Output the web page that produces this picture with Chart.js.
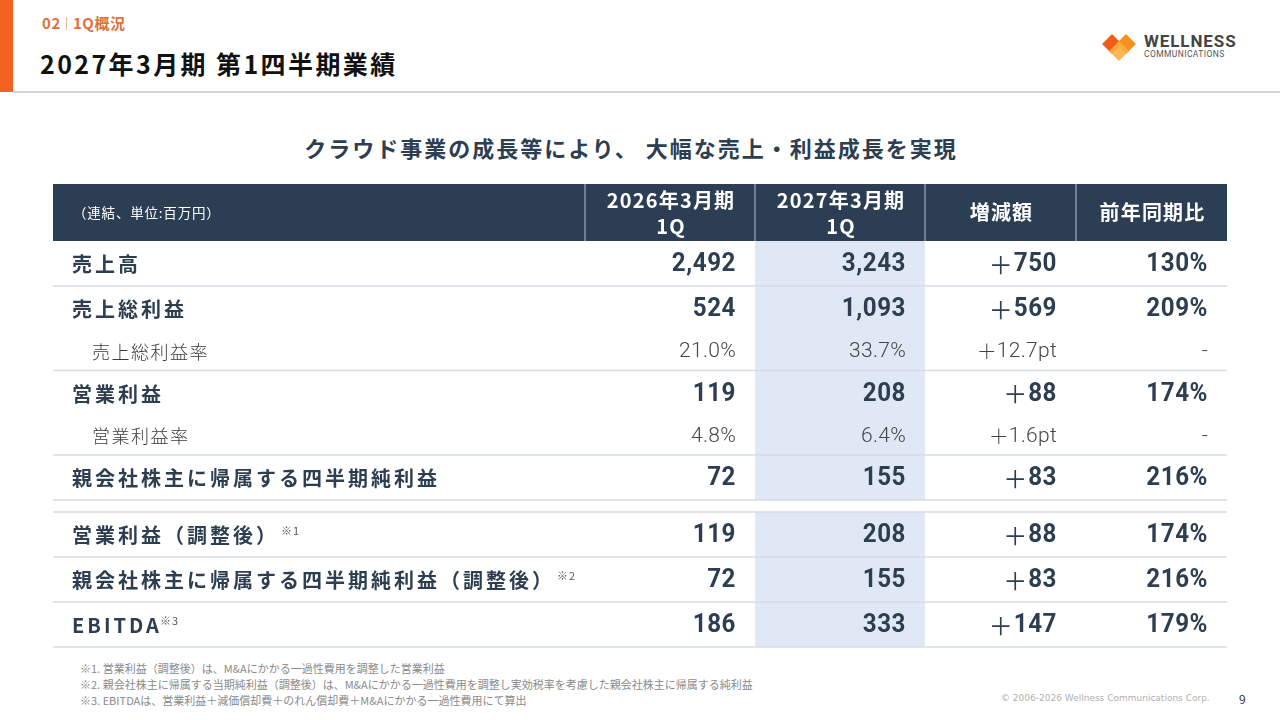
<!DOCTYPE html>
<html lang="ja">
<head>
<meta charset="utf-8">
<script src="https://cdn.jsdelivr.net/npm/chart.js@4.4.1/dist/chart.umd.min.js"></script>
<style>
  body { margin: 0; width: 1280px; height: 720px; background: #fff; position: relative; overflow: hidden;
         font-family: 'Noto Sans CJK JP', 'Noto Sans', sans-serif; }
  .bar { position: absolute; left: 0; top: 0; width: 13px; height: 92px; background: #f3601f; }
  .rule { position: absolute; left: 13px; right: 0; top: 91px; height: 2px; background: #d4d4d4; }
  .section { position: absolute; left: 42px; top: 12px; font-size: 15px; font-weight: 700; color: #e0703c; letter-spacing: 0.6px; }
  .section i { display: inline-block; width: 1px; height: 13px; background: #e8b8a0; margin: 0 6px 0 5px; vertical-align: -1px; }
  .title { position: absolute; left: 40px; top: 45px; font-size: 25px; font-weight: 700; color: #111; letter-spacing: 2.4px; }
  .logo { position: absolute; left: 1100px; top: 32px; }
  .lead { position: absolute; left: 0; width: 1262px; top: 131px; text-align: center; font-size: 22px; font-weight: 700;
          color: #2d3e50; letter-spacing: 2px; }
  #wrap { position: absolute; left: 53px; top: 184px; width: 1174px; height: 464px; }
  .notes { position: absolute; left: 80px; top: 660px; font-size: 11px; color: #8a8a8a; line-height: 16px; }
  .copy { position: absolute; left: 1001px; top: 693px; font-size: 9px; color: #b0b0b0; font-family: 'DejaVu Sans', sans-serif; }
  .page { position: absolute; left: 1239px; top: 690px; font-size: 12px; color: #333; }
</style>
</head>
<body>
<div class="bar"></div>
<div class="rule"></div>
<div class="section">02<i></i>1Q概況</div>
<div class="title">2027年3月期 第1四半期業績</div>
<svg class="logo" width="140" height="30" viewBox="0 0 140 30">
  <g transform="translate(0,2)">
    <rect x="5" y="3" width="14" height="14" fill="#f25c19" transform="rotate(45 12 10)"/>
    <rect x="19" y="3" width="14" height="14" fill="#f7901e" transform="rotate(45 26 10)"/>
    <rect x="12" y="10" width="14" height="14" fill="#fbb040" opacity="0.9" transform="rotate(45 19 17)"/>
  </g>
  <text x="44" y="15" font-family="Roboto, 'DejaVu Sans', sans-serif" font-weight="700" font-size="17" fill="#444" letter-spacing="0.9">WELLNESS</text>
  <text x="44" y="25" font-family="Roboto, 'DejaVu Sans', sans-serif" font-size="8.5" fill="#555" letter-spacing="0.4">COMMUNICATIONS</text>
</svg>
<div class="lead">クラウド事業の成長等により、 大幅な売上・利益成長を実現</div>
<div id="wrap"><canvas id="table" width="1174" height="464"></canvas></div>
<div class="notes">
  ※1. 営業利益（調整後）は、M&amp;Aにかかる一過性費用を調整した営業利益<br>
  ※2. 親会社株主に帰属する当期純利益（調整後）は、M&amp;Aにかかる一過性費用を調整し実効税率を考慮した親会社株主に帰属する純利益<br>
  ※3. EBITDAは、営業利益＋減価償却費＋のれん償却費＋M&amp;Aにかかる一過性費用にて算出
</div>
<div class="copy">© 2006-2026 Wellness Communications Corp.</div>
<div class="page">9</div>

<script>
// table data (百万円)
const unitLabel = '（連結、単位:百万円）';
const columnLabels = [['2026年3月期', '1Q'], ['2027年3月期', '1Q'], ['増減額'], ['前年同期比']];
const rowLabels = ['売上高', '売上総利益', '売上総利益率', '営業利益', '営業利益率',
  '親会社株主に帰属する四半期純利益', '営業利益（調整後）', '親会社株主に帰属する四半期純利益（調整後）', 'EBITDA'];
const rowNotes = ['', '', '', '', '', '', '※1', '※2', '※3'];
const rowIsRatio = [false, false, true, false, true, false, false, false, false];
const prevQ = [2492, 524, 21.0, 119, 4.8, 72, 119, 72, 186];
const currQ = [3243, 1093, 33.7, 208, 6.4, 155, 208, 155, 333];
const change = [750, 569, 12.7, 88, 1.6, 83, 88, 83, 147];
const yoy = [130, 209, null, 174, null, 216, 174, 216, 179];
const groupBreakAfter = 5;

// layout of the table in canvas units
const colEdges = [0, 532, 702, 872, 1023, 1174];
const headerH = 57, mainH = 45, subH = 39.5, gapH = 12;
const rowTop = [], rowBottom = [];
let yy = headerH;
rowLabels.forEach((_, i) => {
  rowTop.push(yy);
  yy += rowIsRatio[i] ? subH : mainH;
  rowBottom.push(yy);
  if (i === groupBreakAfter) yy += gapH;
});
const rowMid = rowTop.map((t, i) => (t + rowBottom[i]) / 2 + 1);
const valueRight = colEdges.slice(2).map(e => e - 19);

const ink = '#2d3e50';
const numFont = "Roboto, 'Noto Sans', sans-serif";
const jpFont = "'Noto Sans CJK JP', sans-serif";

// returns [sign, number text]
function fmt(col, i) {
  const r = rowIsRatio[i];
  if (col === 0) return ['', r ? prevQ[i].toFixed(1) + '%' : prevQ[i].toLocaleString('en-US')];
  if (col === 1) return ['', r ? currQ[i].toFixed(1) + '%' : currQ[i].toLocaleString('en-US')];
  if (col === 2) return ['＋', r ? change[i].toFixed(1) + 'pt' : change[i].toLocaleString('en-US')];
  return ['', yoy[i] == null ? '-' : yoy[i] + '%'];
}

const valueCols = [prevQ, currQ, change, yoy];
const datasets = valueCols.map((arr, c) => ({
  label: 'col' + c,
  data: arr.map((_, i) => ({ x: valueRight[c], y: rowMid[i] })),
  pointRadius: 0,
  showLine: false
}));

const tablePlugin = {
  id: 'tablePlugin',
  beforeDatasetsDraw(chart) {
    const { ctx, scales: { x, y } } = chart;
    const X = v => x.getPixelForValue(v), Y = v => y.getPixelForValue(v);
    ctx.save();
    // highlight column (current quarter), per group
    ctx.fillStyle = '#dfe8f4';
    const groups = [[0, groupBreakAfter], [groupBreakAfter + 1, rowLabels.length - 1]];
    groups.forEach(([a, b]) => {
      ctx.fillRect(X(colEdges[2]), Y(rowTop[a]), X(colEdges[3]) - X(colEdges[2]), Y(rowBottom[b]) - Y(rowTop[a]));
    });
    // header band
    ctx.fillStyle = '#2c3e54';
    ctx.fillRect(X(0), Y(0), X(colEdges[5]) - X(0), Y(headerH) - Y(0));
    ctx.strokeStyle = 'rgba(255,255,255,0.45)';
    ctx.lineWidth = 1.5;
    colEdges.slice(1, 5).forEach(e => {
      ctx.beginPath(); ctx.moveTo(X(e), Y(0)); ctx.lineTo(X(e), Y(headerH)); ctx.stroke();
    });
    // row rules
    ctx.strokeStyle = '#d6dce3';
    ctx.lineWidth = 1.5;
    const hline = v => { ctx.beginPath(); ctx.moveTo(X(0), Y(v)); ctx.lineTo(X(colEdges[5]), Y(v)); ctx.stroke(); };
    rowLabels.forEach((_, i) => {
      const nextIsSub = i + 1 < rowLabels.length && rowIsRatio[i + 1] && i !== groupBreakAfter;
      if (!nextIsSub) hline(rowBottom[i]);
      if (i === groupBreakAfter + 1) hline(rowTop[i]);
    });
    // header text
    ctx.fillStyle = '#fff';
    ctx.textBaseline = 'middle';
    ctx.textAlign = 'left';
    ctx.font = '13.5px ' + jpFont;
    ctx.letterSpacing = '0.8px';
    ctx.fillText(unitLabel, X(20), Y(headerH / 2));
    ctx.textAlign = 'center';
    ctx.letterSpacing = '1.2px';
    columnLabels.forEach((lines, c) => {
      const cx = (X(colEdges[c + 1]) + X(colEdges[c + 2])) / 2 + 1;
      ctx.font = 'bold 20px ' + jpFont;
      if (lines.length === 1) {
        ctx.fillText(lines[0], cx, Y(headerH / 2));
      } else {
        ctx.fillText(lines[0], cx, Y(16));
        ctx.fillText(lines[1], cx, Y(42));
      }
    });
    // row labels
    ctx.textAlign = 'left';
    rowLabels.forEach((lab, i) => {
      const sub = rowIsRatio[i];
      ctx.fillStyle = sub ? '#3a3a3a' : ink;
      ctx.font = sub ? '300 18px ' + jpFont : 'bold 20px ' + jpFont;
      ctx.letterSpacing = sub ? '1.5px' : '3px';
      const lx = X(sub ? 39 : 19);
      ctx.fillText(lab, lx, Y(rowMid[i]));
      if (rowNotes[i]) {
        const w = ctx.measureText(lab).width;
        ctx.font = '11px ' + jpFont;
        ctx.letterSpacing = '1px';
        ctx.fillStyle = '#555';
        ctx.fillText(rowNotes[i], lx + w + (lab === 'EBITDA' ? -2 : 2), Y(rowMid[i] - 5));
      }
    });
    ctx.letterSpacing = '0px';
    ctx.restore();
  },
  afterDatasetsDraw(chart) {
    const { ctx } = chart;
    ctx.save();
    ctx.textBaseline = 'middle';
    chart.data.datasets.forEach((ds, c) => {
      chart.getDatasetMeta(c).data.forEach((pt, i) => {
        const sub = rowIsRatio[i];
        const [sign, txt] = fmt(c, i);
        const sx = sub ? 1 : 0.93;
        ctx.fillStyle = sub ? '#444' : ink;
        ctx.font = sub ? '300 21px ' + numFont : 'bold 26px ' + numFont;
        ctx.letterSpacing = sub ? '0.3px' : '0.6px';
        const w = ctx.measureText(txt).width * sx;
        // condensed digits
        ctx.save();
        ctx.translate(pt.x, pt.y);
        ctx.scale(sx, 1);
        ctx.textAlign = 'right';
        ctx.fillText(txt, 0, 0);
        ctx.restore();
        if (sign) {
          ctx.letterSpacing = '0px';
          ctx.font = (sub ? '300 20px ' : '400 24px ') + jpFont;
          ctx.textAlign = 'right';
          ctx.fillText(sign, pt.x - w - (sub ? 0 : 1), pt.y);
        }
      });
    });
    ctx.restore();
  }
};

new Chart(document.getElementById('table'), {
  type: 'scatter',
  data: { datasets },
  options: {
    responsive: false,
    animation: false,
    events: [],
    layout: { padding: 0 },
    plugins: { legend: { display: false }, tooltip: { enabled: false } },
    scales: {
      x: { type: 'linear', min: 0, max: colEdges[5], display: false },
      y: { type: 'linear', min: 0, max: 464, reverse: true, display: false }
    }
  },
  plugins: [tablePlugin]
});
</script>
</body>
</html>
